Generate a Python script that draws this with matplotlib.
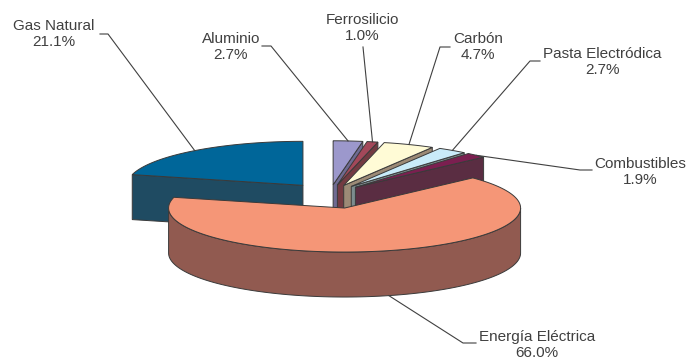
import numpy as np
import matplotlib
matplotlib.use("Agg")
import matplotlib.pyplot as plt
from matplotlib.patches import Polygon

# ==========================================
# データ (12時の位置から時計回り)
# ==========================================
labels = ["Aluminio", "Ferrosilicio", "Carbón", "Pasta Electródica",
          "Combustibles", "Energía Eléctrica", "Gas Natural"]
values = [2.7, 1.0, 4.7, 2.7, 1.9, 66.0, 21.1]

# ==========================================
# スタイル / レイアウト
# ==========================================
top_colors = ["#9c98cc", "#a3485a", "#fffbd6", "#c9ebf9", "#7b1f50", "#f59677", "#006699"]
side_colors = ["#6f6b92", "#733a42", "#9c8a76", "#7c8c8e", "#5a2d42", "#915a50", "#1f4b62"]
explode = [37, 37, 37, 37, 37, 58, 44]   # px
CENTER = (330, 194)
RX, RY, DEPTH = 176, 44, 45
EDGE = "#3a3a3a"
TEXT_COLOR = "#404040"

# ラベル位置 (テキスト中心, 引き出し線の折れ点, 水平線の長さ)
label_xy = [(231, 47), (362, 28), (478, 47), (602, 62), (640, 172), (537, 345), (54, 34)]
elbow_xy = [(271, 46), (363, 47), (440, 47), (530, 61), (580, 170), (463, 343), (108, 34)]
tick_dx = [-9, 0, 10, 10, 12, 13, -8]

fig = plt.figure(figsize=(6.87, 3.6), dpi=100)
ax = fig.add_axes([0, 0, 1, 1])
ax.set_xlim(0, 687)
ax.set_ylim(360, 0)
ax.axis("off")

total = sum(values)
slices = []
cur = 90.0
for i, v in enumerate(values):
    t2 = cur
    t1 = cur - 360.0 * v / total
    cur = t1
    mid = np.radians((t1 + t2) / 2)
    cx = CENTER[0] + explode[i] * np.cos(mid)
    cy = CENTER[1] - explode[i] * np.sin(mid) * RY / RX
    slices.append((t1, t2, cx, cy))


def rim(cx, cy, deg, dz=0.0):
    r = np.radians(deg)
    return cx + RX * np.cos(r), cy - RY * np.sin(r) + dz


# 描画順: Gas Natural -> 小さい扇形 -> Energía Eléctrica
order = [6, 0, 1, 2, 3, 4, 5]
z = 1
for i in order:
    t1, t2, cx, cy = slices[i]
    # 側面 (切り口)
    for t, vis in ((t1, np.cos(np.radians(t1)) > 0), (t2, np.cos(np.radians(t2)) < 0)):
        if vis:
            px, py = rim(cx, cy, t)
            pts = [(cx, cy), (px, py), (px, py + DEPTH), (cx, cy + DEPTH)]
            ax.add_patch(Polygon(pts, closed=True, fc=side_colors[i], ec=EDGE, lw=0.7, zorder=z))
            z += 1
    # 外周の側面 (手前側 180..360 度)
    lo, hi = max(t1, -180.0), min(t2, 0.0)
    if t2 > 180:
        lo, hi = max(t1, 180.0), min(t2, 360.0)
    if hi > lo:
        ang = np.linspace(lo, hi, 120)
        upper = [rim(cx, cy, a) for a in ang]
        lower = [rim(cx, cy, a, DEPTH) for a in ang[::-1]]
        ax.add_patch(Polygon(upper + lower, closed=True, fc=side_colors[i], ec=EDGE, lw=0.7, zorder=z))
        z += 1
    # 上面
    ang = np.linspace(t1, t2, 200)
    pts = [(cx, cy)] + [rim(cx, cy, a) for a in ang]
    ax.add_patch(Polygon(pts, closed=True, fc=top_colors[i], ec=EDGE, lw=0.7, zorder=z))
    z += 1

# ラベルと引き出し線
for i, name in enumerate(labels):
    t1, t2, cx, cy = slices[i]
    m = (t1 + t2) / 2
    dz = DEPTH if np.sin(np.radians(m)) < 0 else 0
    ex, ey = rim(cx, cy, m, dz)
    bx, by = elbow_xy[i]
    ax.plot([bx + tick_dx[i], bx, ex], [by, by, ey], color=TEXT_COLOR, lw=0.8, zorder=50)
    ax.text(label_xy[i][0], label_xy[i][1], f"{name}\n{values[i]:.1f}%",
            ha="center", va="center", fontsize=11, color=TEXT_COLOR,
            family="Liberation Sans", linespacing=1.15, zorder=60)

fig.savefig("out.png", dpi=100)
